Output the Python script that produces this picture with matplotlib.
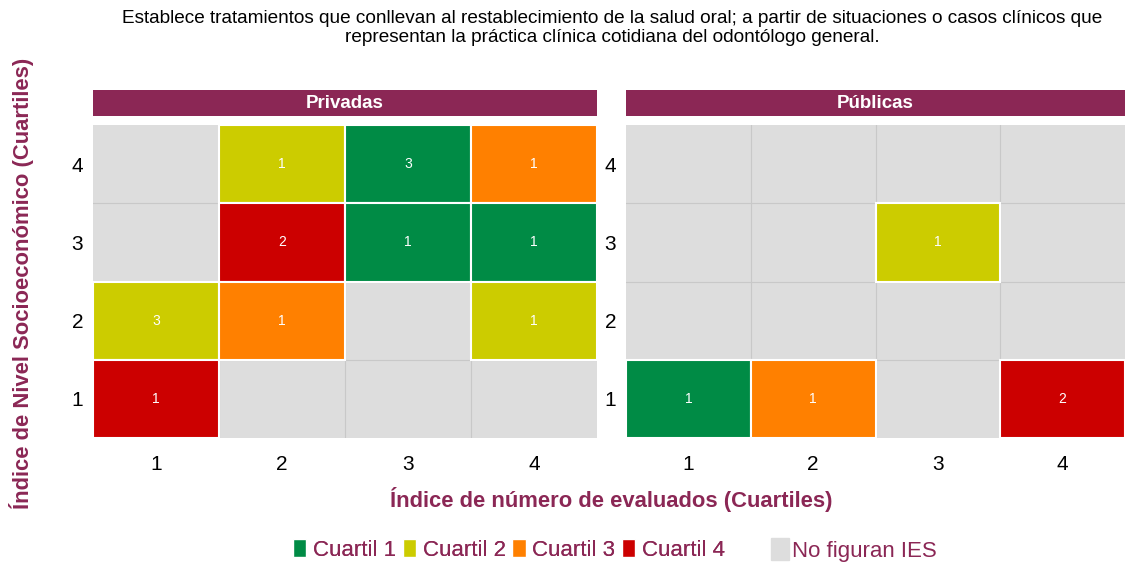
import matplotlib
matplotlib.use("Agg")
import matplotlib.pyplot as plt
from matplotlib.patches import Rectangle, Patch

plt.rcParams['font.family'] = ['Liberation Sans', 'DejaVu Sans']

# ===== datos =====
paneles = ["Privadas", "Públicas"]
# columna (evaluados), fila (socioeconómico), cuartil, conteo
priv_x = [2, 3, 4, 2, 3, 4, 1, 2, 4, 1]
priv_y = [4, 4, 4, 3, 3, 3, 2, 2, 2, 1]
priv_q = [2, 1, 3, 4, 1, 1, 2, 3, 2, 4]
priv_n = [1, 3, 1, 2, 1, 1, 3, 1, 1, 1]

pub_x = [3, 1, 2, 4]
pub_y = [3, 1, 1, 1]
pub_q = [2, 1, 3, 4]
pub_n = [1, 1, 1, 2]

cuartiles = ["Cuartil 1", "Cuartil 2", "Cuartil 3", "Cuartil 4"]
ticks = [1, 2, 3, 4]
# =================

colores = {1: '#008B45', 2: '#CCCC00', 3: '#FF8000', 4: '#CC0000'}
granate = '#8B2755'
gris = '#DDDDDD'

fig = plt.figure(figsize=(11.25, 5.65), dpi=100)

posiciones = [(93, 504), (626, 499)]
datos = [(priv_x, priv_y, priv_q, priv_n), (pub_x, pub_y, pub_q, pub_n)]

for (x0, w), nombre, (xs, ys, qs, ns) in zip(posiciones, paneles, datos):
    ax = fig.add_axes([x0 / 1125, 1 - 438 / 565, w / 1125, 313 / 565])
    ax.set_facecolor(gris)
    ax.set_xlim(0.5, 4.5)
    ax.set_ylim(0.5, 4.5)
    for s in ax.spines.values():
        s.set_visible(False)
    ax.set_xticks(ticks)
    ax.set_yticks(ticks)
    ax.set_xticks([1.5, 2.5, 3.5], minor=True)
    ax.set_yticks([1.5, 2.5, 3.5], minor=True)
    ax.grid(which='minor', color='#C8C8C8', linewidth=0.8)
    ax.set_axisbelow(True)
    ax.tick_params(which='both', length=0, labelsize=15, colors='black')
    ax.tick_params(axis='x', pad=12)
    ax.tick_params(axis='y', pad=7)

    for x, y, q, n in zip(xs, ys, qs, ns):
        ax.add_patch(Rectangle((x - 0.5, y - 0.5), 1, 1, facecolor=colores[q],
                               edgecolor='white', linewidth=1.5, zorder=2))
        ax.text(x, y, str(n), color='white', ha='center', va='center',
                fontsize=10, zorder=3)

    # franja del panel
    sax = fig.add_axes([x0 / 1125, 1 - 116 / 565, w / 1125, 26 / 565])
    sax.set_facecolor(granate)
    sax.set_xticks([])
    sax.set_yticks([])
    for s in sax.spines.values():
        s.set_visible(False)
    sax.text(0.5, 0.5, nombre, color='white', fontsize=13.5, fontweight='bold',
             ha='center', va='center', transform=sax.transAxes)

fig.text(612 / 1125, 1 - 28 / 565,
         "Establece tratamientos que conllevan al restablecimiento de la salud oral; a partir de situaciones o casos clínicos que\n"
         "representan la práctica clínica cotidiana del odontólogo general.",
         ha='center', va='center', fontsize=13.7, linespacing=1.2)

fig.text(611 / 1125, 1 - 500 / 565, "Índice de número de evaluados (Cuartiles)",
         ha='center', va='center', fontsize=15.8, fontweight='bold', color=granate)
fig.text(22 / 1125, 1 - 283 / 565, "Índice de Nivel Socioeconómico (Cuartiles)",
         ha='center', va='center', fontsize=15.8, fontweight='bold', color=granate,
         rotation=90)

manejadores = [Patch(facecolor=colores[i + 1], edgecolor='white') for i in range(4)]
leg1 = fig.legend(manejadores, cuartiles, loc='center', ncol=4,
                  bbox_to_anchor=(509 / 1125, 1 - 550 / 565), frameon=False,
                  fontsize=16, handlelength=0.6, handleheight=0.85,
                  handletextpad=0.3, columnspacing=0.3, labelcolor=granate)
leg2 = fig.legend([Patch(facecolor=gris, edgecolor=gris)], ["No figuran IES"],
                  loc='center', bbox_to_anchor=(854 / 1125, 1 - 550 / 565),
                  frameon=False, fontsize=16, handlelength=0.8, handleheight=1.1,
                  handletextpad=0.15, labelcolor=granate)
fig.add_artist(leg1)

fig.savefig("out.png", dpi=100)
